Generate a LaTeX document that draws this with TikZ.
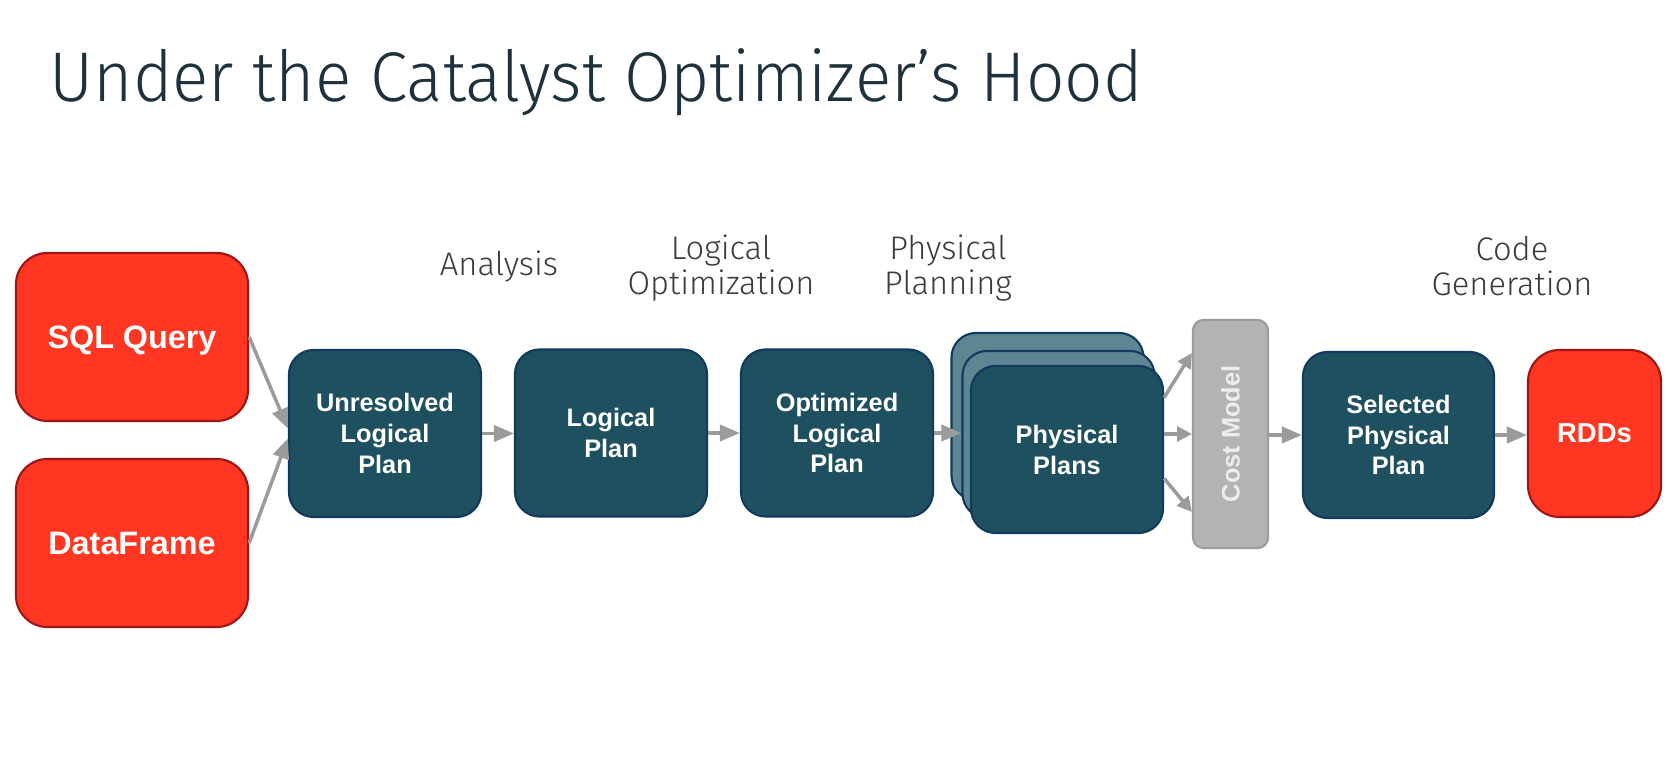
\documentclass[tikz,border=0pt]{standalone}
\usepackage{fontspec}
\usepackage{graphicx}
\setmainfont{Liberation Sans}
\newfontfamily\lightfont{Fira Sans Light}
\usetikzlibrary{arrows.meta,calc}
\definecolor{redfill}{HTML}{FF3621}
\definecolor{redline}{HTML}{9E1515}
\definecolor{tealfill}{HTML}{1E5060}
\definecolor{tealline}{HTML}{12395E}
\definecolor{cardfill}{HTML}{5E8692}
\definecolor{costfill}{HTML}{B3B3B3}
\definecolor{costline}{HTML}{9C9C9C}
\definecolor{costtext}{HTML}{EDEDED}
\definecolor{arrowgray}{HTML}{9B9B9B}
\definecolor{titlecol}{HTML}{1D323D}
\definecolor{labelcol}{HTML}{3C3C3C}
\begin{document}
\begin{tikzpicture}[x=0.01cm,y=-0.01cm,
  redbox/.style={draw=redline, fill=redfill, line width=0.6pt, rounded corners=9pt,
    text=white, align=center, inner sep=0pt, text depth=0pt},
  bigtext/.style={font=\bfseries\fontsize{9.2pt}{11pt}\selectfont},
  tealbox/.style={draw=tealline, fill=tealfill, line width=0.6pt, rounded corners=7pt,
    text=white, align=center, inner sep=0pt, minimum width=1.92cm, minimum height=1.67cm,
    font=\bfseries\fontsize{7.2pt}{8.8pt}\selectfont},
  cardbox/.style={tealbox, fill=cardfill},
  costbox/.style={draw=costline, fill=costfill, line width=0.6pt, rounded corners=3pt,
    text=costtext, inner sep=0pt, minimum width=0.75cm, minimum height=2.28cm,
    font=\bfseries\fontsize{7.2pt}{8.8pt}\selectfont},
  stage/.style={text=labelcol, align=center, inner sep=0pt,
    font=\lightfont\fontsize{9.3pt}{10pt}\selectfont},
  arr/.style={draw=arrowgray, line width=1pt, -{Triangle[length=5.7pt,width=4.6pt]}},
  arrs/.style={draw=arrowgray, line width=1pt, -{Triangle[length=4.2pt,width=4.2pt]}}
]
\useasboundingbox[fill=white] (0,0) rectangle (1674,783);

% title
\node[anchor=base west, inner sep=0pt, text=titlecol,
  font=\lightfont\fontsize{20pt}{24pt}\selectfont] (title) at (49,102)
  {\scalebox{0.96}[1]{Under the Catalyst Optimizer’s Hood}};

% stage labels (anchor=base is the last line's baseline)
\node[stage, anchor=base] (analysis) at (499,276) {Analysis};
\node[stage, anchor=base] (lopt) at (721,295) {Logical\\Optimization};
\node[stage, anchor=base] (pplan) at (948,295) {Physical\\Planning};
\node[stage, anchor=base] (cgen) at (1512,296) {Code\\Generation};

% inputs
\node[redbox, bigtext, minimum width=2.32cm, minimum height=1.68cm] (sql) at (132,337) {SQL Query};
\node[redbox, bigtext, minimum width=2.32cm, minimum height=1.68cm] (df) at (132,543) {DataFrame};

% pipeline
\node[tealbox] (unres) at (385,433.5) {Unresolved\\Logical\\Plan};
\node[tealbox] (logical) at (611,433) {Logical\\Plan};
\node[tealbox] (opt) at (837,433) {Optimized\\Logical\\Plan};

\node[cardbox] (back) at (1047.5,416.5) {};
\node[cardbox] (mid) at (1058.5,434.5) {};
\node[tealbox] (front) at (1067,449.5) {Physical\\Plans};

\node[costbox] (cost) at (1230.5,434) {\rotatebox{90}{Cost Model}};

\node[tealbox, minimum width=1.91cm, minimum height=1.66cm] (sel) at (1398.5,435) {Selected\\Physical\\Plan};
\node[redbox, minimum width=1.33cm, minimum height=1.67cm,
  font=\bfseries\fontsize{7.8pt}{9pt}\selectfont] (rdd) at (1594.5,433.5) {RDDs};

% connectors
\draw[arr] (sql.east) -- ($(unres.west)+(0,-5)$);
\draw[arr] (df.east) -- ($(unres.west)+(0,5)$);
\draw[arr] (unres.east) -- (unres.east -| logical.west);
\draw[arr] (logical.east) -- (logical.east -| opt.west);
\draw[arr] (opt.east) -- (opt.east -| mid.west);
\draw[arrs] ($(front.east)+(0,-52)$) -- ($(cost.west)+(0,-81)$);
\draw[arrs] (front.east |- cost.west) -- (cost.west);
\draw[arrs] ($(front.east)+(0,29)$) -- ($(cost.west)+(0,78)$);
\draw[arr] (cost.east |- sel.west) -- (sel.west);
\draw[arr] (sel.east) -- (sel.east -| rdd.west);
\end{tikzpicture}
\end{document}
